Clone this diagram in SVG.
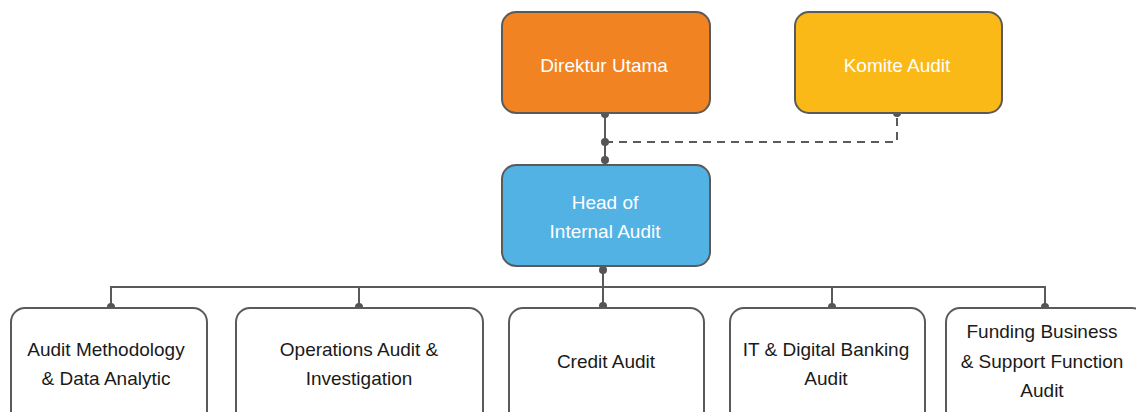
<svg xmlns="http://www.w3.org/2000/svg" width="1136" height="412" viewBox="0 0 1136 412">
<style>
.box{stroke:#5a5a5a;stroke-width:2}
.w{fill:#ffffff}
.t{font-family:"Liberation Sans",Arial,sans-serif;font-size:19px;text-anchor:middle}
.tw{fill:#ffffff}
.tk{fill:#1a1a1a}
.ln{stroke:#5a5a5a;stroke-width:2;fill:none}
.dash{stroke:#5a5a5a;stroke-width:2;fill:none;stroke-dasharray:8 6}
.dot{fill:#555555}
</style>
<rect width="1136" height="412" fill="#ffffff"/>
<g id="connectors">
<path class="ln" d="M605 113 V164"/>
<path class="dash" d="M605 142 H897 V113"/>
<path class="ln" d="M603 267 V308"/>
<path class="ln" d="M111 308 V287 H1045 V308"/>
<path class="ln" d="M359 287 V308 M832 287 V308"/>
<circle class="dot" cx="605" cy="114" r="4"/>
<circle class="dot" cx="605" cy="142" r="4"/>
<circle class="dot" cx="605" cy="160" r="4"/>
<circle class="dot" cx="897" cy="113" r="4"/>
<circle class="dot" cx="603" cy="270" r="4"/>
<circle class="dot" cx="111" cy="307" r="4"/>
<circle class="dot" cx="359" cy="307" r="4"/>
<circle class="dot" cx="603" cy="306" r="4"/>
<circle class="dot" cx="832" cy="307" r="4"/>
<circle class="dot" cx="1045" cy="307" r="4"/>
</g>
<g id="direktur">
<rect class="box" x="502" y="12" width="208" height="101" rx="14" fill="#F28322"/>
<text class="t tw" x="604" y="72">Direktur Utama</text>
</g>
<g id="komite">
<rect class="box" x="795" y="12" width="207" height="101" rx="14" fill="#FBB917"/>
<text class="t tw" x="897" y="72">Komite Audit</text>
</g>
<g id="head">
<rect class="box" x="502" y="165" width="208" height="101" rx="14" fill="#52B2E4"/>
<text class="t tw" x="605" y="209">Head of</text>
<text class="t tw" x="605" y="238">Internal Audit</text>
</g>
<g id="methodology">
<rect class="box w" x="11" y="308" width="196" height="130" rx="14"/>
<text class="t tk" x="106" y="356">Audit Methodology</text>
<text class="t tk" x="106" y="385">&amp; Data Analytic</text>
</g>
<g id="operations">
<rect class="box w" x="236" y="308" width="247" height="130" rx="14"/>
<text class="t tk" x="359" y="356">Operations Audit &amp;</text>
<text class="t tk" x="359" y="385">Investigation</text>
</g>
<g id="credit">
<rect class="box w" x="509" y="308" width="195" height="130" rx="14"/>
<text class="t tk" x="606" y="368">Credit Audit</text>
</g>
<g id="it">
<rect class="box w" x="730" y="308" width="195" height="130" rx="14"/>
<text class="t tk" x="826" y="356">IT &amp; Digital Banking</text>
<text class="t tk" x="826" y="385">Audit</text>
</g>
<g id="funding">
<rect class="box w" x="946" y="308" width="200" height="130" rx="14"/>
<text class="t tk" x="1042" y="338">Funding Business</text>
<text class="t tk" x="1042" y="368">&amp; Support Function</text>
<text class="t tk" x="1042" y="397">Audit</text>
</g>
</svg>
